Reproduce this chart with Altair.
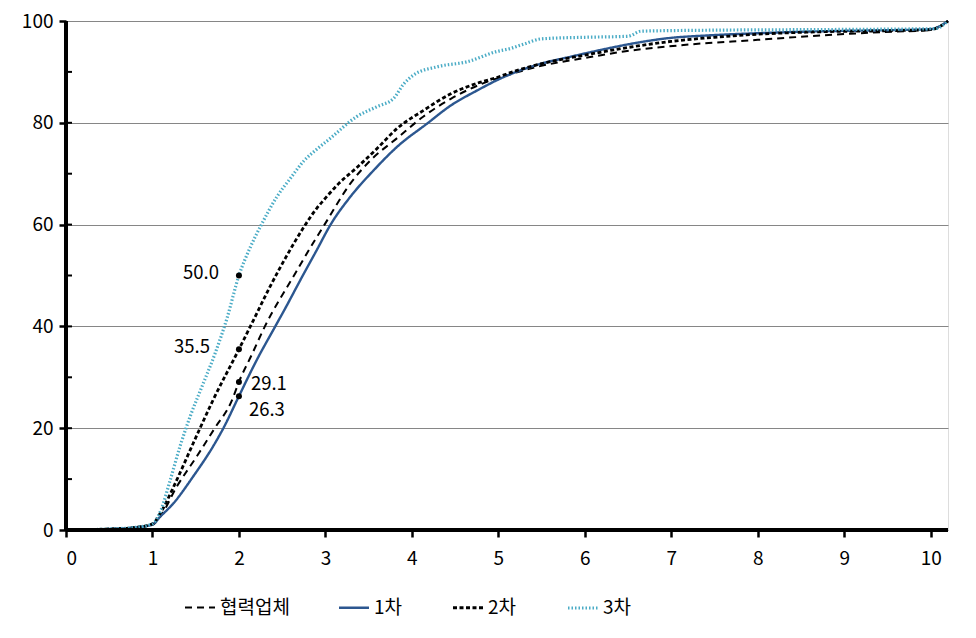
import altair as alt
import pandas as pd

FONT = "Noto Sans CJK KR"

series_names = ["협력업체", "1차", "2차", "3차"]

# 협력업체 (long dash)
hyup_x = [0.15, 0.5, 0.8, 1.0, 1.09, 1.28, 1.51, 1.72, 1.92, 2.0, 2.15, 2.3, 2.63, 2.88, 2.99, 3.29, 3.52, 3.83,
          4.13, 4.45, 4.8, 5.06, 5.45, 5.99, 6.45, 7.22, 8.0, 8.77, 9.55, 9.98, 10.2]
hyup_y = [0.0, 0.2, 0.5, 1.0, 2.6, 8.5, 14.4, 20.0, 25.5, 29.1, 34.5, 40.0, 49.8, 57.0, 60.0, 68.1, 72.6, 77.0,
          81.2, 84.7, 87.6, 89.1, 91.0, 92.7, 94.0, 95.4, 96.3, 97.2, 97.9, 98.2, 100.0]

# 1차 (solid blue)
first_x = [0.15, 0.5, 0.8, 0.99, 1.1, 1.24, 1.47, 1.7, 1.82, 2.0, 2.2, 2.42, 2.55, 2.71, 2.9, 3.06, 3.29, 3.56,
           3.83, 4.18, 4.45, 4.76, 5.05, 5.45, 5.84, 6.18, 6.56, 6.95, 7.46, 8.0, 8.77, 9.55, 10.0, 10.2]
first_y = [0.0, 0.2, 0.5, 1.0, 2.8, 5.2, 10.5, 16.4, 20.0, 26.3, 33.2, 40.0, 44.0, 49.1, 55.0, 60.0, 65.5, 70.7,
           75.3, 79.9, 83.4, 86.4, 88.9, 91.4, 93.0, 94.3, 95.6, 96.6, 97.2, 97.6, 98.0, 98.2, 98.4, 100.0]

# 2차 (short dash)
second_x = [0.15, 0.5, 0.8, 1.0, 1.09, 1.28, 1.47, 1.55, 1.7, 2.0, 2.17, 2.35, 2.55, 2.75, 2.9, 3.0, 3.15, 3.35,
            3.6, 3.83, 4.14, 4.45, 4.76, 4.98, 5.2, 5.6, 6.0, 6.5, 7.0, 7.5, 8.0, 8.77, 9.55, 10.0, 10.2]
second_y = [0.0, 0.2, 0.5, 1.2, 3.3, 9.8, 17.0, 20.0, 25.5, 35.5, 41.3, 47.5, 53.8, 59.5, 63.2, 65.2, 68.0, 71.0,
            75.0, 78.9, 82.5, 85.7, 87.8, 88.9, 90.2, 92.0, 93.3, 94.8, 96.0, 96.8, 97.4, 97.9, 98.1, 98.3, 100.0]

# 3차 (dotted light blue)
third_x = [0.15, 0.5, 0.8, 1.0, 1.1, 1.2, 1.32, 1.44, 1.58, 1.72, 1.86, 2.0, 2.13, 2.26, 2.44, 2.6, 2.75, 2.9,
           3.06, 3.36, 3.6, 3.79, 3.9, 4.02, 4.29, 4.64, 4.98, 5.14, 5.3, 5.5, 6.0, 6.5, 6.65, 7.5, 8.5, 9.5,
           10.05, 10.2]
third_y = [0.0, 0.2, 0.5, 1.2, 4.0, 9.5, 16.5, 22.5, 28.5, 34.5, 41.5, 50.0, 55.5, 60.0, 65.5, 69.2, 72.5, 74.8,
           77.0, 81.2, 83.2, 84.8, 87.5, 89.4, 91.0, 92.0, 94.0, 94.6, 95.5, 96.5, 96.8, 97.0, 98.0, 98.2, 98.3,
           98.4, 98.5, 100.0]

# marked values at x = 2
mark_x = [2, 2, 2, 2]
mark_y = [50.0, 35.5, 29.1, 26.3]
mark_labels = ["50.0", "35.5", "29.1", "26.3"]

x_ticks = list(range(0, 11))
y_ticks = [0, 20, 40, 60, 80, 100]
y_inner_ticks = [10, 20, 30, 40, 50, 60, 70, 80, 90]

rows = []
for name, xs, ys in zip(series_names, [hyup_x, first_x, second_x, third_x],
                        [hyup_y, first_y, second_y, third_y]):
    for i, (a, b) in enumerate(zip(xs, ys)):
        rows.append({"series": name, "x": a, "y": b, "i": i})
df = pd.DataFrame(rows)

pts = pd.DataFrame({"x": mark_x, "y": mark_y, "label": mark_labels})
inner = pd.DataFrame({"y": y_inner_ticks})

xscale = alt.Scale(domain=[0, 10.2], nice=False, zero=False)
yscale = alt.Scale(domain=[0, 100], nice=False)

color_scale = alt.Scale(domain=series_names, range=["#000000", "#2C5790", "#000000", "#4BACC6"])
dash_scale = alt.Scale(domain=series_names, range=[[7, 5], [1, 0], [4, 2.5], [1.5, 2]])
width_scale = alt.Scale(domain=series_names, range=[2, 3.2, 2, 1.6])

x_axis = alt.Axis(values=x_ticks, title=None, grid=False, domain=False,
                  tickColor="black", tickWidth=2.5, tickSize=7, labelFontSize=19, labelFont=FONT,
                  labelColor="black", labelPadding=12, format="d")
y_axis = alt.Axis(values=y_ticks, title=None, grid=True, gridColor="#868686", gridWidth=1,
                  domain=False, tickColor="black", tickWidth=2.5, tickSize=7,
                  labelFontSize=19, labelFont=FONT, labelColor="black", labelPadding=6, format="d")

legend_cfg = dict(title=None, orient="none", legendX=117, legendY=570, direction="horizontal",
                  columns=4, columnPadding=44, symbolType="stroke", symbolSize=900,
                  symbolStrokeWidth=2.5, labelFontSize=19, labelFont=FONT, labelColor="black",
                  labelOffset=3)

lines = alt.Chart(df).mark_line(interpolate="monotone").encode(
    x=alt.X("x:Q", scale=xscale, axis=x_axis),
    y=alt.Y("y:Q", scale=yscale, axis=y_axis),
    color=alt.Color("series:N", scale=color_scale, legend=alt.Legend(**legend_cfg)),
    strokeDash=alt.StrokeDash("series:N", scale=dash_scale, legend=alt.Legend(**legend_cfg)),
    strokeWidth=alt.StrokeWidth("series:N", scale=width_scale, legend=None),
    order=alt.Order("i:Q"),
)

inner_ticks = alt.Chart(inner).mark_rule(color="black", strokeWidth=2).encode(
    y=alt.Y("y:Q", scale=yscale),
    x=alt.value(0),
    x2=alt.value(6),
)

# thick axis lines
y_axis_line = alt.Chart(inner).mark_rule(color="black", strokeWidth=3.5).encode(
    x=alt.value(0), y=alt.value(0), y2=alt.value(509)
)
x_axis_line = alt.Chart(inner).mark_rule(color="black", strokeWidth=3.5).encode(
    x=alt.value(0), x2=alt.value(882), y=alt.value(509)
)

points = alt.Chart(pts).mark_circle(size=36, color="black", opacity=1).encode(
    x=alt.X("x:Q", scale=xscale),
    y=alt.Y("y:Q", scale=yscale),
)

# label offsets (style only)
label_style = [(-20, -3, "right"), (-29, -2, "right"), (12, 2, "left"), (10, 14, "left")]
texts = []
for k, (dx, dy, al) in enumerate(label_style):
    texts.append(
        alt.Chart(pts.iloc[[k]]).mark_text(dx=dx, dy=dy, align=al, baseline="middle", fontSize=18.5,
                                           font=FONT, color="black").encode(
            x=alt.X("x:Q", scale=xscale),
            y=alt.Y("y:Q", scale=yscale),
            text="label:N",
        )
    )

chart = alt.layer(lines, inner_ticks, y_axis_line, x_axis_line, points, *texts).properties(
    width=882, height=509,
    autosize=alt.AutoSizeParams(type="none"),
    padding={"left": 66, "top": 21, "right": 28, "bottom": 108},
).configure_view(stroke=None).configure(background="white")

chart.save("out.html", embed_options={"renderer": "svg", "actions": False})
